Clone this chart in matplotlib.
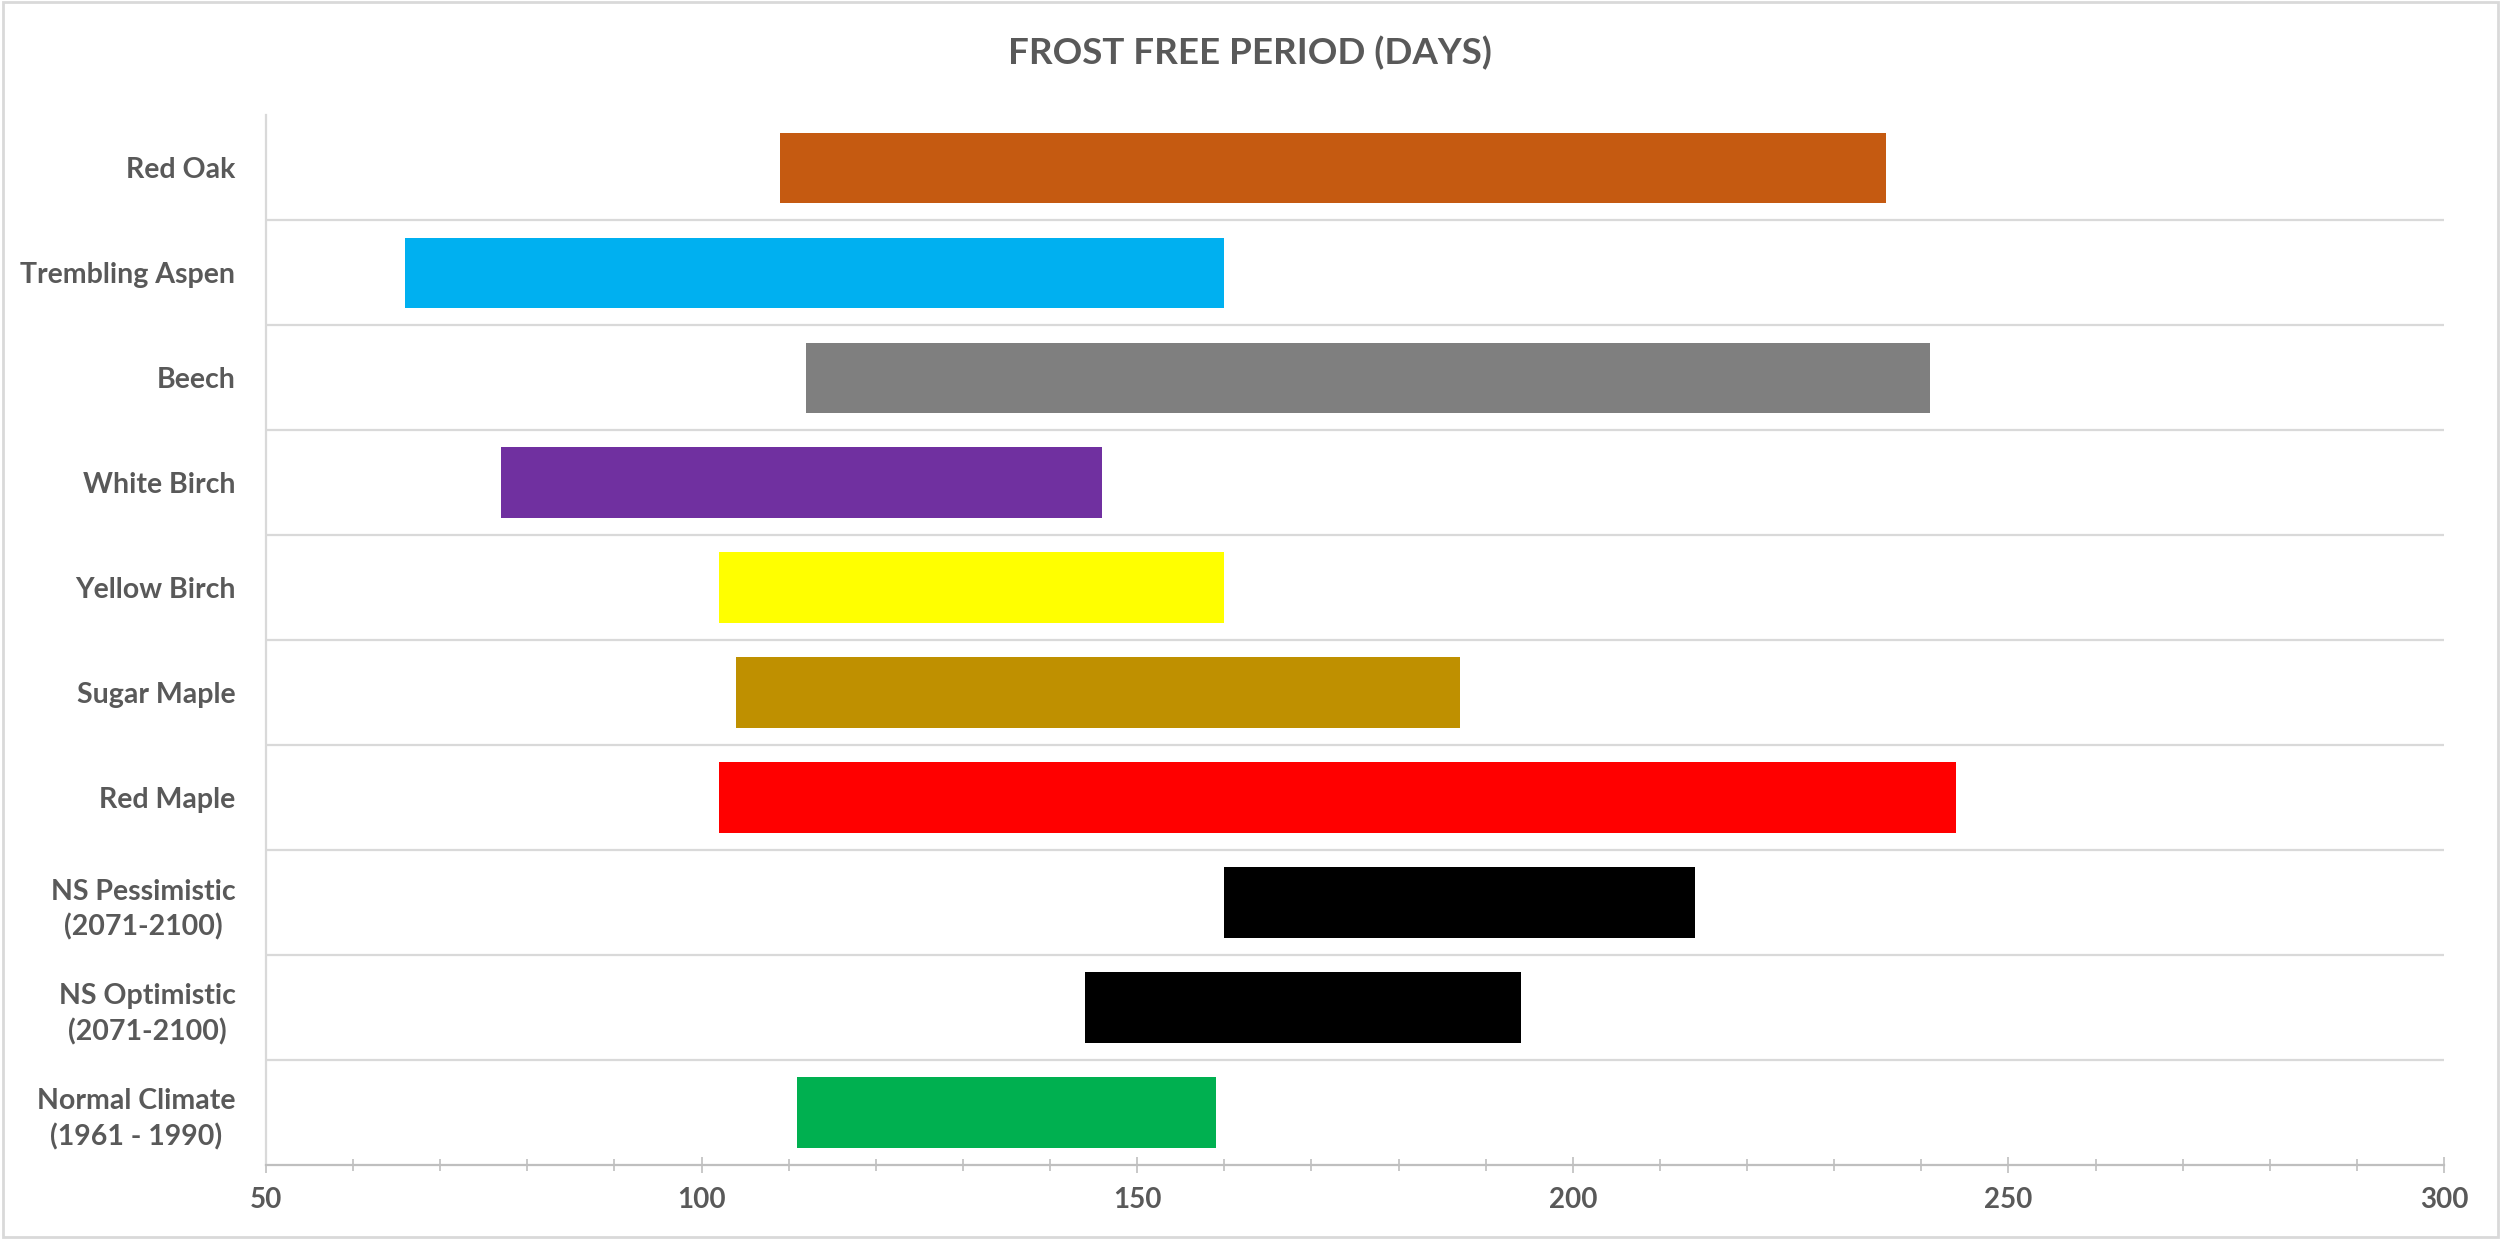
import numpy as np
import matplotlib.pyplot as plt
from matplotlib.ticker import MultipleLocator, FixedLocator
from matplotlib.patches import Rectangle

# categories listed top to bottom as in the chart
species = ["Red Oak", "Trembling Aspen", "Beech", "White Birch", "Yellow Birch",
           "Sugar Maple", "Red Maple", "NS Pessimistic\n(2071-2100)",
           "NS Optimistic\n(2071-2100)", "Normal Climate\n(1961 - 1990)"]
start_days = [109, 66, 112, 77, 102, 104, 102, 160, 144, 111]
end_days = [236, 160, 241, 146, 160, 187, 244, 214, 194, 159]
bar_colors = ["#C55A11", "#00B0F0", "#7F7F7F", "#7030A0", "#FFFF00",
              "#BF9000", "#FF0000", "#000000", "#000000", "#00B050"]

font = ["Lato", "DejaVu Sans"]
text_grey = "#595959"

fig = plt.figure(figsize=(25, 12.39), dpi=100)
ax = fig.add_axes([0.1064, 0.0597, 0.8712, 0.8473])

# bottom category at y=0
ypos = np.arange(len(species))[::-1]
widths = np.array(end_days) - np.array(start_days)
ax.barh(ypos, widths, left=start_days, height=0.67, color=bar_colors, zorder=3)

ax.set_xlim(50, 300)
ax.set_ylim(-0.5, len(species) - 0.5)

# category separators
ax.set_yticks(ypos)
ax.set_yticklabels(species, fontfamily=font, fontweight="bold", fontsize=20.5,
                   color=text_grey, multialignment="center", linespacing=1.4)
ax.yaxis.set_minor_locator(FixedLocator(np.arange(0.5, len(species) - 1, 1.0)))
ax.grid(axis="y", which="minor", color="#D9D9D9", linewidth=1.6, zorder=0)
ax.tick_params(axis="y", which="both", length=0, pad=22)

ax.xaxis.set_major_locator(MultipleLocator(50))
ax.xaxis.set_minor_locator(MultipleLocator(10))
ax.tick_params(axis="x", which="major", direction="inout", length=12, width=1.2,
               color="#BFBFBF", pad=10)
ax.tick_params(axis="x", which="minor", direction="inout", length=9, width=1.2,
               color="#BFBFBF")
for lab in ax.get_xticklabels():
    lab.set_fontfamily(font)
    lab.set_fontweight("bold")
    lab.set_fontsize(20)
    lab.set_color(text_grey)

for side in ["top", "right"]:
    ax.spines[side].set_visible(False)
ax.spines["left"].set_color("#D9D9D9")
ax.spines["left"].set_linewidth(1.6)
ax.spines["bottom"].set_color("#BFBFBF")
ax.spines["bottom"].set_linewidth(1.6)

fig.text(0.5, 0.957, "FROST FREE PERIOD (DAYS)", ha="center", va="center",
         fontfamily=font, fontweight="bold", fontsize=26.5, color=text_grey)

# chart border
fig.patches.append(Rectangle((0.001, 0.002), 0.998, 0.996, transform=fig.transFigure,
                             fill=False, edgecolor="#D9D9D9", linewidth=2))

fig.savefig("out.png", dpi=100)
